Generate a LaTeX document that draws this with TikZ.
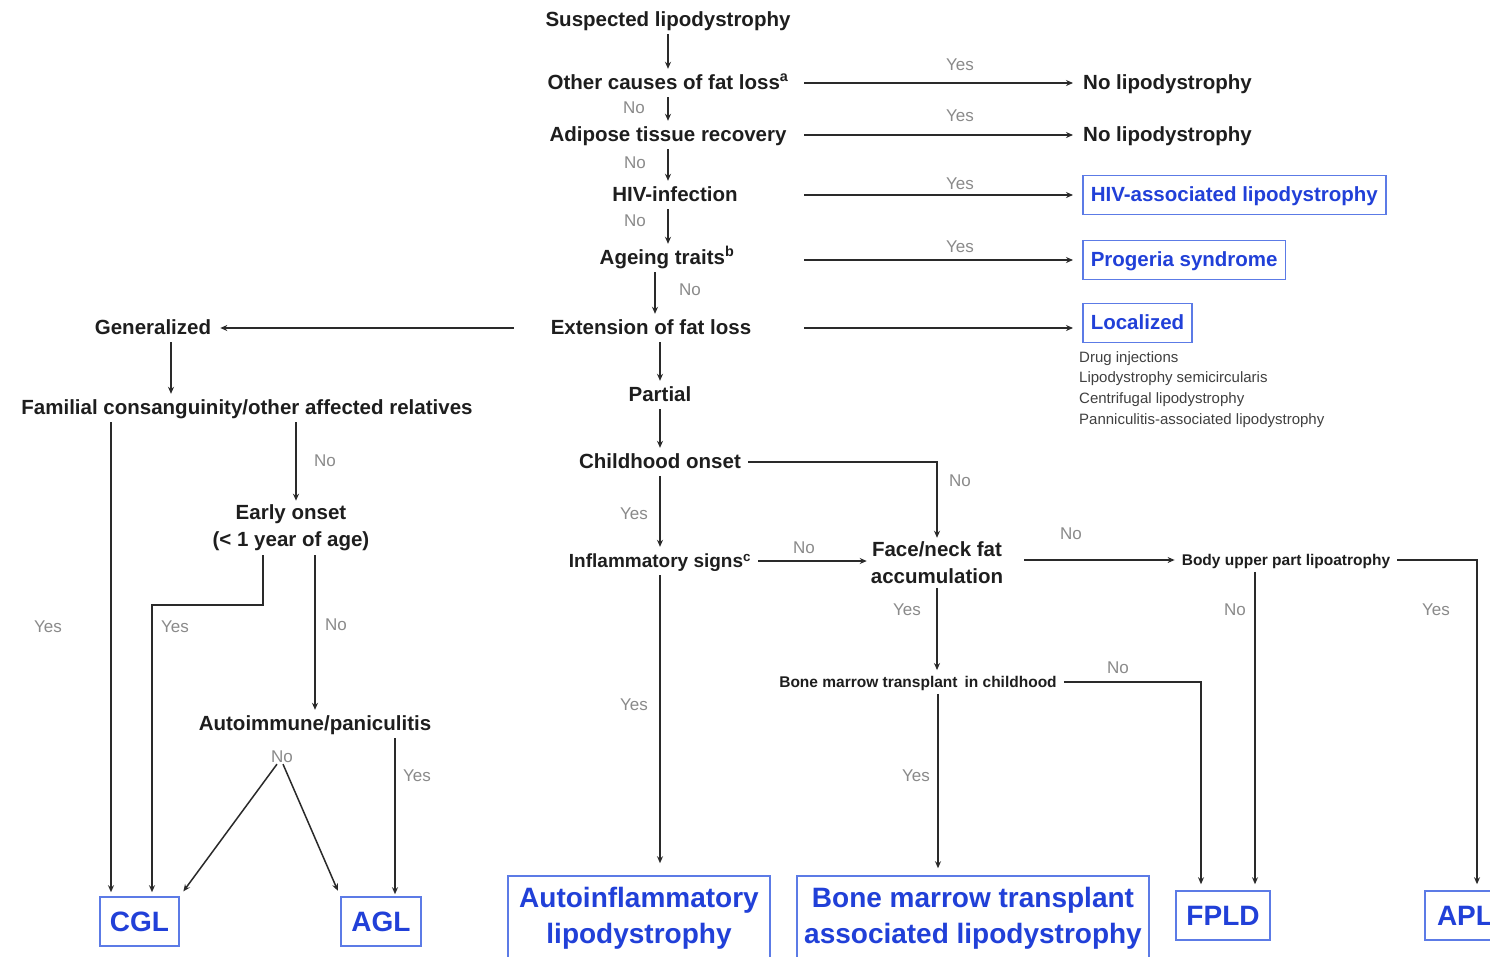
\documentclass[tikz,border=0pt]{standalone}
\usepackage{fontspec}
\setmainfont{Liberation Sans}
\usetikzlibrary{arrows.meta}
\definecolor{textblue}{HTML}{2140D8}
\definecolor{boxblue}{HTML}{5C7BE6}
\definecolor{linec}{HTML}{2A2A2A}
\definecolor{labc}{HTML}{8A8A8A}
\definecolor{txt}{HTML}{1E1E1E}
\begin{document}
\begin{tikzpicture}[x=1pt,y=-1pt,
  main/.style={font=\bfseries\fontsize{20.5}{27}\selectfont, text=txt, inner xsep=7pt, inner ysep=4pt, text height=16.5pt, text depth=3.5pt},
  mainml/.style={font=\bfseries\fontsize{20.5}{27}\selectfont, text=txt, inner sep=4pt, align=center},
  smallb/.style={font=\bfseries\fontsize{15.5}{19}\selectfont, text=txt, inner xsep=7pt, inner ysep=4pt, text height=13pt, text depth=2.5pt},
  lab/.style={font=\fontsize{17}{20}\selectfont, text=labc, inner sep=1pt},
  note/.style={font=\fontsize{15}{20.7}\selectfont, text=black!75, align=left, inner sep=2pt},
  outbox/.style={draw=boxblue, line width=1.5pt, text=textblue, font=\bfseries\fontsize{20.5}{27}\selectfont, minimum height=39pt, inner xsep=8pt, inner ysep=0pt, text height=16.5pt, text depth=3.5pt, anchor=west},
  bigbox/.style={draw=boxblue, line width=1.6pt, text=textblue, font=\bfseries\fontsize{28}{36}\selectfont, align=center, inner sep=0pt},
  arr/.style={draw=linec, line width=1.5pt, -{Stealth[length=7pt,width=6pt]}},
  ln/.style={draw=linec, line width=1.5pt}
]
\useasboundingbox (0,0) rectangle (1490,956);
\fill[white] (0,0) rectangle (1490,956);

% column coordinates
\coordinate (colA) at (668,0);
\coordinate (colB) at (655,0);
\coordinate (colC) at (660,0);
\coordinate (colR) at (804,0);
\coordinate (colG) at (171,0);
\coordinate (colL1) at (111,0);
\coordinate (colE) at (296,0);
\coordinate (colAG) at (395,0);
\coordinate (colF1) at (1201,0);
\coordinate (colF2) at (1255,0);
\coordinate (colAPL) at (1477,0);
\coordinate (colBM) at (938,0);
\coordinate (eb1) at (263,605);
\coordinate (eb2) at (152,605);

% main column nodes
\node[main] (susp) at (668,20) {Suspected lipodystrophy};
\node[main] (other) at (668,83) {Other causes of fat loss\textsuperscript{a}};
\node[main, anchor=west, inner xsep=0pt] (nolipo1) at (1083,83) {No lipodystrophy};
\node[main] (adip) at (668,135) {Adipose tissue recovery};
\node[main, anchor=west, inner xsep=0pt] (nolipo2) at (1083,135) {No lipodystrophy};
\node[main] (hiv) at (675,195) {HIV-infection};
\node[outbox] (hivbox) at (1082,195) {HIV-associated lipodystrophy};
\node[main] (ageing) at (667,258) {Ageing traits\textsuperscript{b}};
\node[outbox] (progbox) at (1082,260) {Progeria syndrome};
\node[main] (ext) at (651,328) {Extension of fat loss};
\node[main] (gen) at (153,328) {Generalized};
\node[outbox] (locbox) at (1082,323) {Localized};
\node[note, anchor=north west] (notes) at (1077,349) {Drug injections\\Lipodystrophy semicircularis\\Centrifugal lipodystrophy\\Panniculitis-associated lipodystrophy};
\node[main] (partial) at (660,395) {Partial};
\node[main] (child) at (660,462) {Childhood onset};
\node[main, font=\bfseries\fontsize{19}{24}\selectfont] (infl) at (660,561) {Inflammatory signs\textsuperscript{c}};
\node[mainml] (face) at (937,563) {Face/neck fat\\accumulation};
\node[smallb] (body) at (1286,560) {Body upper part lipoatrophy};
\node[smallb] (bmt) at (918,682) {Bone marrow transplant\hspace{0.45em}in childhood};

% left nodes
\node[main] (famil) at (247,408) {Familial consanguinity/other affected relatives};
\node[mainml] (early) at (291,528) {Early onset\\(< 1 year of age)};
\node[main] (autoim) at (315,724) {Autoimmune/paniculitis};

% terminal boxes
\node[bigbox, minimum width=79pt, minimum height=49pt] (cgl) at (139.5,921.5) {CGL};
\node[bigbox, minimum width=80pt, minimum height=49pt] (agl) at (381,921.5) {AGL};
\node[bigbox, minimum width=262pt, minimum height=84pt] (autobox) at (639,918) {Autoinflammatory\\lipodystrophy};
\node[bigbox, minimum width=352pt, minimum height=84pt] (bmtbox) at (973,918) {Bone marrow transplant\\associated lipodystrophy};
\node[bigbox, minimum width=94pt, minimum height=49pt] (fpld) at (1223,915.5) {FPLD};
\node[bigbox, minimum width=80pt, minimum height=49pt] (apl) at (1465,915.5) {APL};

% labels
\node[lab] (y1) at (960,65) {Yes};
\node[lab] (y2) at (960,116) {Yes};
\node[lab] (y3) at (960,184) {Yes};
\node[lab] (y4) at (960,247) {Yes};
\node[lab] (n1) at (634,108) {No};
\node[lab] (n2) at (635,163) {No};
\node[lab] (n3) at (635,221) {No};
\node[lab] (n4) at (690,290) {No};
\node[lab] (n5) at (325,461) {No};
\node[lab] (y5) at (48,627) {Yes};
\node[lab] (y6) at (175,627) {Yes};
\node[lab] (n6) at (336,625) {No};
\node[lab] (noA) at (282,757) {No};
\node[lab] (y7) at (417,776) {Yes};
\node[lab] (n7) at (960,481) {No};
\node[lab] (y8) at (634,514) {Yes};
\node[lab] (n8) at (804,548) {No};
\node[lab] (n9) at (1071,534) {No};
\node[lab] (y9) at (907,610) {Yes};
\node[lab] (n10) at (1235,610) {No};
\node[lab] (y10) at (1436,610) {Yes};
\node[lab] (n11) at (1118,668) {No};
\node[lab] (y11) at (916,776) {Yes};
\node[lab] (y12) at (634,705) {Yes};

% connectors main column
\draw[arr] (susp.south -| colA) -- (other.north -| colA);
\draw[arr] (other.south -| colA) -- (adip.north -| colA);
\draw[arr] (adip.south -| colA) -- (hiv.north -| colA);
\draw[arr] (hiv.south -| colA) -- (ageing.north -| colA);
\draw[arr] (ageing.south -| colB) -- (ext.north -| colB);
\draw[arr] (other.east -| colR) -- ([xshift=-10pt]nolipo1.west);
\draw[arr] (adip.east -| colR) -- ([xshift=-10pt]nolipo2.west);
\draw[arr, shorten >=9pt] (hivbox.west -| colR) -- (hivbox.west);
\draw[arr, shorten >=9pt] (progbox.west -| colR) -- (progbox.west);
\draw[arr, shorten >=9pt] (ext.east -| colR) -- (ext.east -| locbox.west);
\draw[arr, shorten <=30pt, shorten >=2pt] (ext.west) -- (ext.west -| gen.east);
\draw[arr] (ext.south -| colC) -- (partial.north -| colC);
\draw[arr] (partial.south -| colC) -- (child.north -| colC);
\draw[arr] (child.south -| colC) -- (infl.north -| colC);
\draw[arr] (child.east) -| (face.north);
\draw[arr] (infl.east) -- (infl.east -| face.west);
\draw[arr, shorten <=17pt] (face.east |- body.west) -- (body.west);
\draw[arr, shorten >=6pt] (body.east) -| (colAPL |- apl.north);
\draw[arr, shorten >=6pt] (body.south -| colF2) -- (colF2 |- fpld.north);
\draw[arr] (face.south) -- (face.south |- bmt.north);
\draw[arr, shorten >=6pt] (bmt.east) -| (colF1 |- fpld.north);
\draw[arr, shorten >=7pt] (bmt.south -| colBM) -- (colBM |- bmtbox.north);
\draw[arr, shorten >=12pt] (infl.south -| colC) -- (colC |- autobox.north);

% left side
\draw[arr] (gen.south -| colG) -- (famil.north -| colG);
\draw[arr, shorten >=4pt] (famil.south -| colL1) -- (colL1 |- cgl.north);
\draw[arr] (famil.south -| colE) -- (early.north -| colE);
\draw[arr, shorten >=4pt] (early.south -| eb1) -- (eb1) -- (eb2) -- (eb2 |- cgl.north);
\draw[arr] (early.south -| autoim.north) -- (autoim.north);
\draw[arr, shorten >=6pt] ([xshift=-5pt]noA.south) -- (cgl.north east);
\draw[arr, shorten >=6pt] ([xshift=1pt]noA.south) -- (agl.north west);
\draw[arr, shorten >=2pt] (autoim.south -| colAG) -- (colAG |- agl.north);
\end{tikzpicture}
\end{document}
